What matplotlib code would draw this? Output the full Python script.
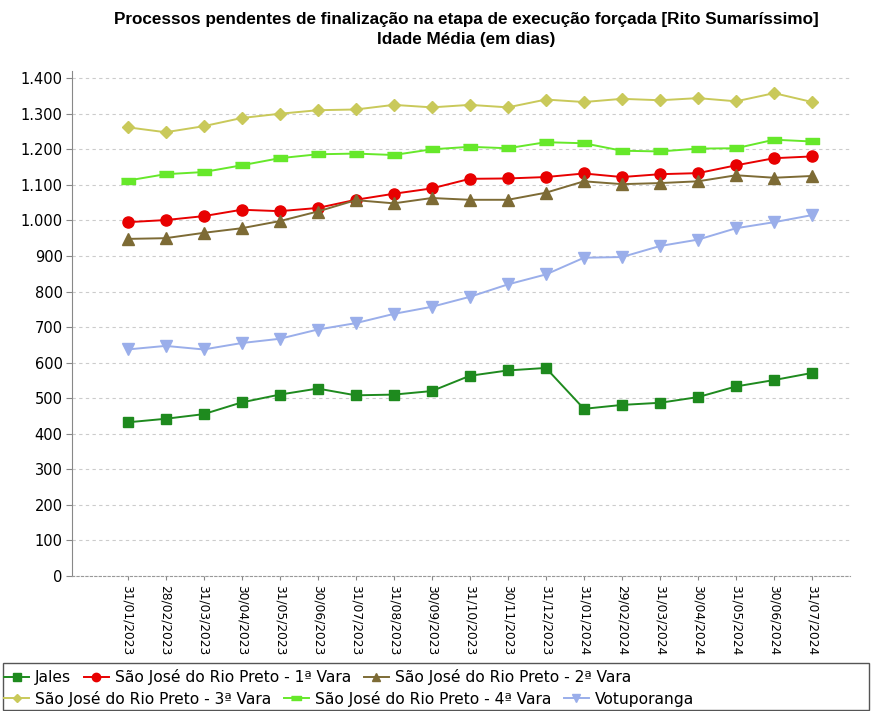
import numpy as np
import matplotlib.pyplot as plt
from matplotlib.ticker import FuncFormatter
from matplotlib.patches import Rectangle

datas = ["31/01/2023", "28/02/2023", "31/03/2023", "30/04/2023", "31/05/2023",
         "30/06/2023", "31/07/2023", "31/08/2023", "30/09/2023", "31/10/2023",
         "30/11/2023", "31/12/2023", "31/01/2024", "29/02/2024", "31/03/2024",
         "30/04/2024", "31/05/2024", "30/06/2024", "31/07/2024"]

jales = [432, 442, 455, 488, 510, 527, 508, 510, 520, 563, 578, 585,
         470, 481, 487, 503, 533, 551, 571]
rio_preto_1 = [995, 1001, 1012, 1030, 1026, 1035, 1058, 1075, 1090, 1117, 1118, 1122,
               1132, 1122, 1130, 1133, 1155, 1175, 1180]
rio_preto_2 = [948, 950, 965, 978, 998, 1025, 1057, 1048, 1063, 1058, 1058, 1078,
               1110, 1102, 1105, 1110, 1127, 1120, 1125]
rio_preto_3 = [1262, 1248, 1265, 1288, 1300, 1310, 1312, 1325, 1318, 1325, 1318, 1340,
               1333, 1342, 1338, 1344, 1335, 1358, 1333]
rio_preto_4 = [1112, 1130, 1136, 1155, 1175, 1186, 1188, 1184, 1200, 1207, 1203, 1220,
               1217, 1196, 1194, 1202, 1203, 1227, 1222]
votuporanga = [637, 647, 637, 655, 667, 693, 711, 737, 757, 785, 820, 848,
               895, 897, 928, 946, 978, 995, 1015]

nomes = ["Jales", "São José do Rio Preto - 1ª Vara", "São José do Rio Preto - 2ª Vara",
         "São José do Rio Preto - 3ª Vara", "São José do Rio Preto - 4ª Vara", "Votuporanga"]

barra = [(-1, -0.45), (1, -0.45), (1, 0.45), (-1, 0.45)]  # marcador retangular achatado
estilos = [
    dict(color="#1e8a1e", marker="s", ms=7),
    dict(color="#e80000", marker="o", ms=8),
    dict(color="#7d6b35", marker="^", ms=8),
    dict(color="#c9c95a", marker="D", ms=6),
    dict(color="#66e82a", marker=barra, ms=10),
    dict(color="#9aaeea", marker="v", ms=8),
]

series = [jales, rio_preto_1, rio_preto_2, rio_preto_3, rio_preto_4, votuporanga]

fig = plt.figure(figsize=(8.72, 7.11), dpi=100)
ax = fig.add_axes([0.083, 0.19, 0.892, 0.71])

x = np.arange(len(datas))
linhas = []
for nome, valores, est in zip(nomes, series, estilos):
    ln, = ax.plot(x, valores, lw=1.4, label=nome, **est)
    linhas.append(ln)

ax.set_xlim(-1.45, 19.0)
ax.set_ylim(0, 1420)
ax.set_yticks(np.arange(0, 1401, 100))
ax.yaxis.set_major_formatter(FuncFormatter(lambda v, p: f"{int(v):,}".replace(",", ".")))
ax.set_xticks(x)
ax.set_xticklabels(datas, rotation=-90, fontsize=8.8)
ax.tick_params(axis="y", labelsize=10.5, length=4, color="#888888", pad=3)
ax.tick_params(axis="x", length=3, color="#888888")
ax.grid(axis="y", ls=(0, (3, 3)), color="#cccccc", lw=0.8)
ax.set_axisbelow(True)
for lado in ["top", "right"]:
    ax.spines[lado].set_visible(False)
ax.spines["left"].set_color("#888888")
ax.spines["bottom"].set_color("#999999")
ax.spines["bottom"].set_linestyle((0, (2, 2)))

fig.text(0.535, 0.972, "Processos pendentes de finalização na etapa de execução forçada [Rito Sumaríssimo]",
         ha="center", va="center", fontsize=12.3, fontweight="bold", family="Liberation Sans")
fig.text(0.535, 0.945, "Idade Média (em dias)",
         ha="center", va="center", fontsize=12.3, fontweight="bold", family="Liberation Sans")

# legenda em duas linhas, dentro de uma caixa
fig.patches.append(Rectangle((0.003, 0.002), 0.994, 0.066, transform=fig.transFigure,
                             fill=False, edgecolor="#555555", lw=1))
kw = dict(frameon=False, fontsize=11.2, handlelength=1.6, handletextpad=0.4,
          columnspacing=0.8, borderaxespad=0, borderpad=0.1, markerscale=0.75)
fig.legend(linhas[:3], nomes[:3], loc="lower left", bbox_to_anchor=(0.003, 0.034), ncol=3, **kw)
fig.legend(linhas[3:], nomes[3:], loc="lower left", bbox_to_anchor=(0.003, 0.004), ncol=3, **kw)

fig.savefig("out.png", dpi=100)
